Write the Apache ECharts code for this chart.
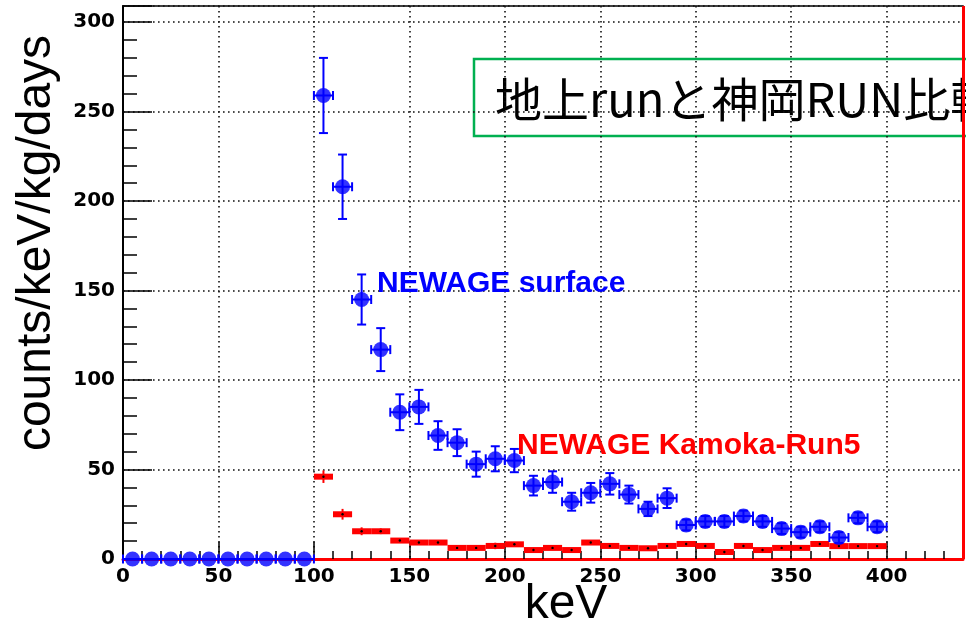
<!DOCTYPE html>
<html><head><meta charset="utf-8">
<script src="https://cdn.jsdelivr.net/npm/echarts@6/dist/echarts.min.js"></script>
<style>html,body{margin:0;padding:0;background:#fff}#c{width:966px;height:627px}</style>
</head><body><div id="c"></div>
<script>
// ---- data ----
const xMin = 0, xMax = 440, yMin = 0, yMax = 309;
const majorX = 50, majorY = 50, minorStep = 10;
const binHalfWidth = 5;

const surfaceCenters = [5,15,25,35,45,55,65,75,85,95,105,115,125,135,145,155,165,175,185,195,205,215,225,235,245,255,265,275,285,295,305,315,325,335,345,355,365,375,385,395];
const surfaceValues  = [0,0,0,0,0,0,0,0,0,0,259,208,145,117,82,85,69,65,53,56,55,41,43,32,37,42,36,28,34,19,21,21,24,21,17,15,18,12,23,18];
const surfaceErrors  = [0,0,0,0,0,0,0,0,0,0,21,18,14,12,10,9.5,8,7.5,7,7,6.5,5.5,6,5,5.5,6,5,4,5.5,3,3,3,3,3,3,3,3,3,3,3];

const kamiokaCenters = [105,115,125,135,145,155,165,175,185,195,205,215,225,235,245,255,265,275,285,295,305,315,325,335,345,355,365,375,385,395];
const kamiokaValues  = [46,25,15.5,15.5,10.3,9.2,9.2,6.2,6.2,7.3,8.2,5.0,6.2,5.0,9.2,7.3,6.2,6.0,7.3,8.4,7.3,3.9,7.3,5.0,6.2,6.2,8.4,7.2,7.2,7.2];
const kamiokaErrors  = [3.5,3,2.2,1.6,1.2,1.2,1.2,1.2,1.2,1.8,1.2,1.2,1.2,1.2,1.2,1.2,1.2,1.2,1.2,1.2,1.2,1.2,1.2,1.2,1.2,1.2,1.2,1.2,1.2,1.2];

const titleText = '地上runと神岡RUN比較';
const xTitle = 'keV';
const yTitle = 'counts/keV/kg/days';
const surfaceLabel = 'NEWAGE surface';
const kamiokaLabel = 'NEWAGE Kamoka-Run5';

// ---- chart ----
const chart = echarts.init(document.getElementById('c'), null, {renderer: 'canvas'});
const BLUE = '#0000ff', RED = '#ff0000';
const tickFont = {fontFamily: 'DejaVu Sans', fontWeight: 'bold', fontSize: 20, color: '#000'};
const gridTop = 6, gridBottom = 68, gridLeft = 123, gridRight = 3;
const gridH = 627 - gridTop - gridBottom, gridW = 966 - gridLeft - gridRight;
const dotted = {color: '#111', width: 1.6, type: [1.6, 3.4]};

const surfaceData = surfaceCenters.map((x, i) => [x, surfaceValues[i], surfaceErrors[i]]);
const kamiokaData = kamiokaCenters.map((x, i) => [x, kamiokaValues[i], kamiokaErrors[i]]);

function blueErr(params, api) {
  const x = api.value(0), y = api.value(1), e = api.value(2);
  const c = api.coord([x, y]);
  const l = api.coord([x - binHalfWidth, y]);
  const r = api.coord([x + binHalfWidth, y]);
  const st = {stroke: BLUE, lineWidth: 2};
  const cap = 4.5;
  const ch = [
    {type: 'line', shape: {x1: l[0], y1: c[1], x2: r[0], y2: c[1]}, style: st},
    {type: 'line', shape: {x1: l[0], y1: c[1] - cap, x2: l[0], y2: c[1] + cap}, style: st},
    {type: 'line', shape: {x1: r[0], y1: c[1] - cap, x2: r[0], y2: c[1] + cap}, style: st}
  ];
  if (e > 0) {
    const t = api.coord([x, y + e]), b = api.coord([x, y - e]);
    ch.push({type: 'line', shape: {x1: c[0], y1: t[1], x2: c[0], y2: b[1]}, style: st});
    ch.push({type: 'line', shape: {x1: c[0] - cap, y1: t[1], x2: c[0] + cap, y2: t[1]}, style: st});
    ch.push({type: 'line', shape: {x1: c[0] - cap, y1: b[1], x2: c[0] + cap, y2: b[1]}, style: st});
  }
  return {type: 'group', children: ch};
}

function redBin(params, api) {
  const x = api.value(0), y = api.value(1), e = api.value(2);
  const c = api.coord([x, y]);
  const l = api.coord([x - binHalfWidth, y]);
  const r = api.coord([x + binHalfWidth, y]);
  const t = api.coord([x, y + e]), b = api.coord([x, y - e]);
  return {type: 'group', children: [
    {type: 'line', shape: {x1: c[0], y1: t[1], x2: c[0], y2: b[1]}, style: {stroke: RED, lineWidth: 2}},
    {type: 'line', shape: {x1: l[0], y1: c[1], x2: r[0], y2: c[1]}, style: {stroke: RED, lineWidth: 6}},
    {type: 'circle', shape: {cx: c[0], cy: c[1], r: 1.2}, style: {fill: '#000'}}
  ]};
}

const fmtX = v => (v % majorX === 0 && v <= 400) ? String(v) : '';
const fmtY = v => (v % majorY === 0 && v <= 300) ? String(v) : '';

chart.setOption({
  animation: false,
  backgroundColor: '#fff',
  grid: {left: gridLeft, right: gridRight, top: gridTop, bottom: gridBottom, show: true,
         borderColor: '#000', borderWidth: 1.5, backgroundColor: 'transparent', outerBoundsMode: 'none'},
  xAxis: [
    {type: 'value', min: xMin, max: xMax, interval: majorX, position: 'bottom',
     axisLine: {show: true, onZero: false, lineStyle: {color: RED, width: 3}},
     axisTick: {show: true, inside: true, length: 17, lineStyle: {color: '#000', width: 1.5}},
     axisLabel: Object.assign({margin: 8, formatter: fmtX}, tickFont),
     splitLine: {show: true, lineStyle: dotted}},
    {type: 'value', min: xMin, max: xMax, interval: minorStep, position: 'top', offset: -gridH,
     axisLine: {show: false, onZero: false}, axisLabel: {show: false}, splitLine: {show: false},
     axisTick: {show: true, inside: false, length: 8, lineStyle: {color: '#000', width: 1.5}}}
  ],
  yAxis: [
    {type: 'value', min: yMin, max: yMax, interval: majorY, position: 'left',
     axisLine: {show: true, onZero: false, lineStyle: {color: '#000', width: 2}},
     axisTick: {show: true, inside: true, length: 29, lineStyle: {color: '#000', width: 1.5}},
     axisLabel: Object.assign({margin: 8, formatter: fmtY}, tickFont),
     splitLine: {show: true, lineStyle: dotted}},
    {type: 'value', min: yMin, max: yMax, interval: minorStep, position: 'right', offset: -gridW,
     axisLine: {show: false, onZero: false}, axisLabel: {show: false}, splitLine: {show: false},
     axisTick: {show: true, inside: false, length: 14, lineStyle: {color: '#000', width: 1.5}}}
  ],
  series: [
    {type: 'custom', name: 'Kamioka', renderItem: redBin, data: kamiokaData,
     encode: {x: 0, y: 1}, xAxisIndex: 0, yAxisIndex: 0, z: 3, clip: false,
     markLine: {silent: true, symbol: 'none', label: {show: false},
                lineStyle: {color: RED, width: 3, type: 'solid'}, data: [{xAxis: xMax}]}},
    {type: 'custom', name: 'surface-err', renderItem: blueErr, data: surfaceData,
     encode: {x: 0, y: 1}, xAxisIndex: 0, yAxisIndex: 0, z: 4, clip: false},
    {type: 'scatter', name: 'surface', data: surfaceData.map(d => [d[0], d[1]]),
     symbol: 'circle', symbolSize: 15, itemStyle: {color: BLUE}, xAxisIndex: 0, yAxisIndex: 0, z: 5, clip: false}
  ],
  graphic: [
    {type: 'text', x: 377, y: 284, z: 10,
     style: {text: surfaceLabel, fill: BLUE, font: 'bold 30px "Liberation Sans", Arial, sans-serif', verticalAlign: 'middle', align: 'left'}},
    {type: 'text', x: 517, y: 445.5, z: 10,
     style: {text: kamiokaLabel, fill: RED, font: 'bold 30px "Liberation Sans", Arial, sans-serif', verticalAlign: 'middle', align: 'left'}},
    {type: 'text', x: 566, y: 605, z: 10,
     style: {text: xTitle, fill: '#000', font: '48px "Liberation Sans", Arial, sans-serif', verticalAlign: 'middle', align: 'center'}},
    {type: 'text', x: 37, y: 243, rotation: Math.PI / 2, z: 10,
     style: {text: yTitle, fill: '#000', font: '48px "Liberation Sans", Arial, sans-serif', verticalAlign: 'middle', align: 'center'}},
    {type: 'group', z: 20, children: [
      {type: 'rect', shape: {x: 474, y: 59, width: 600, height: 77},
       style: {fill: '#fff', stroke: '#00b050', lineWidth: 2.5}},
      {type: 'text', x: 495, y: 99,
       style: {text: titleText, fill: '#000', font: '47px "Noto Sans CJK JP", sans-serif', verticalAlign: 'middle', align: 'left'}}
    ]}
  ]
});
</script>
</body></html>
